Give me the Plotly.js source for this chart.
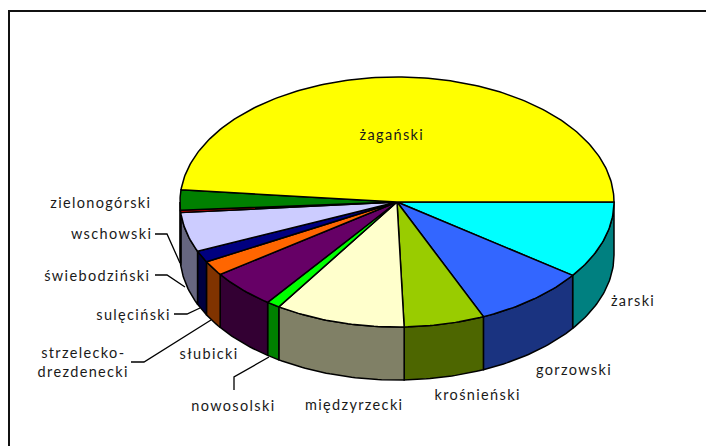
<!DOCTYPE html>
<html><head><meta charset="utf-8">
<script src="https://cdn.plot.ly/plotly-3.0.1.min.js"></script>
<style>
html,body{margin:0;padding:0;background:#fff}
#c{width:706px;height:446px}
.annotation text{letter-spacing:1.35px}
</style></head><body><div id="c"></div>
<script>
// Clockwise from east, as in the reference
const categories=["żarski","gorzowski","krośnieński","międzyrzecki","nowosolski","słubicki","strzelecko-<br>drezdenecki","sulęciński","świebodziński","wschowski","zielonogórski","żagański"];
const shares=[10.0,8.5,6.0,9.7,1.0,5.0,1.9,1.5,5.1,0.3,2.6,48.5];
const topColors=["#00FFFF","#3366FF","#99CC00","#FFFFCC","#00FF00","#660066","#FF6600","#000080","#CCCCFF","#FF0000","#008000","#FFFF00"];
const wallColors=["#008080","#1A3380","#4D6600","#808066","#008000","#330033","#803300","#000040","#666680","#800000","#004000","#808000"];
// label anchor, page pixels (centre of text)
const labelPx=[[633,300],[574,369],[477,394],[354,404],[233,405],[209,353],[83,362],[133,314],[97,275],[111,234],[101,202],[392,134]];
// leader lines, page pixels
const leaders=[[[155,234],[167,234],[180,263]],[[155,275],[167,275],[185,287]],[[174,314],[187,314],[200,308]],[[131,362],[144,362],[211,320]],[[234,390],[234,377],[269,357]]];
const W=706,H=446,CX=397,CY=202,RX=217,RY=125,DEPTH=53/125;

const total=shares.reduce((a,b)=>a+b,0);
let acc=0;
const arcs=shares.map(v=>{const a=acc;acc+=v/total*2*Math.PI;return [a,acc];});
const steps=(a,b)=>{const n=Math.max(2,Math.ceil((b-a)*180/Math.PI));const o=[];for(let i=0;i<=n;i++)o.push(a+(b-a)*i/n);return o;};
const traces=[];
const base={type:'scatter',mode:'lines',fill:'toself',hoverinfo:'skip',showlegend:false};
// outer wall: only the front half (t 0..pi) shows
arcs.forEach((arc,i)=>{
  const a=arc[0],b=Math.min(arc[1],Math.PI);
  if(a>=Math.PI)return;
  const ts=steps(a,b);
  const x=ts.map(Math.cos),y=ts.map(t=>-Math.sin(t));
  const xb=x.slice().reverse(),yb=y.slice().reverse().map(v=>v-DEPTH);
  traces.push(Object.assign({},base,{x:x.concat(xb,[x[0]]),y:y.concat(yb,[y[0]]),fillcolor:wallColors[i],line:{color:'#000',width:1.5}}));
});
// top face
arcs.forEach((arc,i)=>{
  const ts=steps(arc[0],arc[1]);
  const x=[0].concat(ts.map(Math.cos),[0]),y=[0].concat(ts.map(t=>-Math.sin(t)),[0]);
  traces.push(Object.assign({},base,{x:x,y:y,fillcolor:topColors[i],line:{color:'#000',width:1.5}}));
});
const annotations=categories.map((c,i)=>({text:c,xref:'paper',yref:'paper',x:labelPx[i][0]/W,y:1-labelPx[i][1]/H,xanchor:'center',yanchor:'middle',showarrow:false,align:'center',font:{family:'Lato, Carlito, sans-serif',size:14.5,color:'#1a1a1a'}}));
// chart frame: only the left and top edges are drawn in the reference
const frame={type:'path',xref:'paper',yref:'paper',path:'M'+(9/W)+' 0 L'+(9/W)+' '+(1-11/H)+' L1 '+(1-11/H),line:{color:'#111',width:2}};
const shapes=[frame];
leaders.forEach(l=>{
  const d=l.map((p,i)=>(i?'L':'M')+(p[0]/W)+' '+(1-p[1]/H)).join(' ');
  shapes.push({type:'path',xref:'paper',yref:'paper',path:d,line:{color:'#000',width:1.3}});
});
const layout={width:W,height:H,margin:{l:0,r:0,t:0,b:0},paper_bgcolor:'#fff',plot_bgcolor:'#fff',showlegend:false,
  xaxis:{range:[-CX/RX,(W-CX)/RX],visible:false,fixedrange:true},
  yaxis:{range:[-(H-CY)/RY,CY/RY],visible:false,fixedrange:true},
  annotations:annotations,shapes:shapes};
Plotly.newPlot('c',traces,layout,{displayModeBar:false,staticPlot:true});
</script></body></html>
